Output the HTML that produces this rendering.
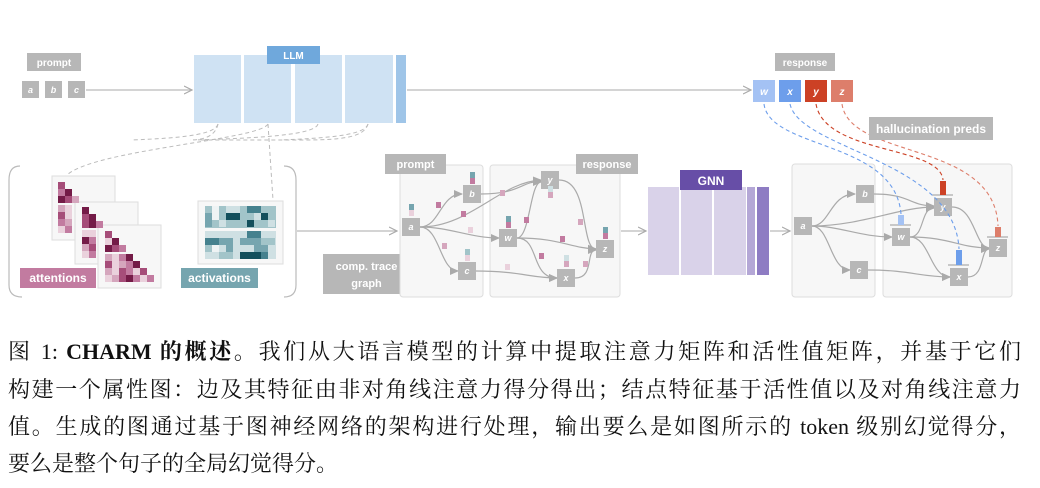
<!DOCTYPE html>
<html><head><meta charset="utf-8"><style>
body{margin:0;background:#fff;width:1040px;height:488px;overflow:hidden;position:relative}
svg{position:absolute;left:0;top:0}
.t{font-family:"Liberation Sans",sans-serif;font-weight:bold;fill:#fff}
.cap{position:absolute;left:8px;width:1013px;font-family:"Liberation Serif","Noto Serif CJK SC",serif;font-size:22px;color:#111;white-space:nowrap;text-align:justify;text-align-last:justify;line-height:26px}
</style></head><body>
<svg width="1040" height="330" viewBox="0 0 1040 330">
<defs>
<marker id="ah" markerWidth="10" markerHeight="10" refX="8" refY="5" orient="auto" markerUnits="userSpaceOnUse"><path d="M0,1 L8,5 L0,9" fill="none" stroke="#aaa" stroke-width="1.2"/></marker>
<marker id="ag" markerWidth="10" markerHeight="10" refX="8" refY="5" orient="auto" markerUnits="userSpaceOnUse"><path d="M0,1 L9,5 L0,9 z" fill="#aaa"/></marker>
</defs>
<rect x="27" y="53" width="54" height="18" fill="#b7b7b7"/><text x="54" y="66" class="t" font-size="10" text-anchor="middle">prompt</text>
<g font-size="9" class="t" text-anchor="middle" font-style="italic">
<rect x="22" y="81" width="17" height="17" fill="#b7b7b7"/><text x="30.5" y="93">a</text>
<rect x="45" y="81" width="17" height="17" fill="#b7b7b7"/><text x="53.5" y="93">b</text>
<rect x="68" y="81" width="17" height="17" fill="#b7b7b7"/><text x="76.5" y="93">c</text>
</g>
<line x1="86" y1="90" x2="192" y2="90" stroke="#bbb" stroke-width="1.3" marker-end="url(#ah)"/>
<rect x="194" y="55" width="47" height="68" fill="#cfe2f3"/><rect x="244" y="55" width="47" height="68" fill="#cfe2f3"/>
<rect x="295" y="55" width="47" height="68" fill="#cfe2f3"/><rect x="345" y="55" width="48" height="68" fill="#cfe2f3"/>
<rect x="396" y="55" width="10" height="68" fill="#9fc5e8"/>
<rect x="267" y="46" width="53" height="18" fill="#6fa8dc"/><text x="293.5" y="59" class="t" font-size="10" text-anchor="middle">LLM</text>
<line x1="407" y1="90" x2="751" y2="90" stroke="#bbb" stroke-width="1.3" marker-end="url(#ah)"/>
<g fill="none" stroke="#bbb" stroke-width="1" stroke-dasharray="4,3">
<path d="M218,124 C215,135 180,138 132,140"/>
<path d="M318,124 C315,135 260,138 195,140"/>
<path d="M368,124 C365,135 330,138 280,140"/>
<path d="M218,124 C215,138 200,140 190,140"/>
<path d="M268,124 C260,140 90,150 66,176"/>
<path d="M268,124 L273,200"/>
<path d="M368,124 C364,138 340,140 300,140 L200,140"/>
</g>
<path d="M20,166 Q9,166 9,180 L9,285 Q9,297 22,297 M284,297 Q296,297 296,285 L296,180 Q296,166 284,166" fill="none" stroke="#bbb" stroke-width="1.2"/>
<g stroke="#ddd" stroke-width="1">
<rect x="52" y="176" width="63" height="64" fill="#f7f7f7"/>
<rect x="75" y="202" width="63" height="62" fill="#f7f7f7"/>
<rect x="98" y="225" width="63" height="63" fill="#f7f7f7"/>
</g>
<g>
<rect x="58" y="182" width="7" height="7" fill="#a64d79"/><rect x="58" y="189" width="7" height="7" fill="#c27ba0"/><rect x="65" y="189" width="7" height="7" fill="#741b47"/>
<rect x="58" y="196" width="7" height="7" fill="#741b47"/><rect x="65" y="196" width="7" height="7" fill="#a64d79"/><rect x="72" y="196" width="7" height="7" fill="#d5a6bd"/>
<rect x="58" y="205" width="7" height="7" fill="#d5a6bd"/><rect x="65" y="205" width="7" height="7" fill="#ead1dc"/><rect x="58" y="212" width="7" height="7" fill="#a64d79"/><rect x="65" y="212" width="7" height="7" fill="#ead1dc"/><rect x="58" y="219" width="7" height="7" fill="#c27ba0"/><rect x="65" y="219" width="7" height="7" fill="#d5a6bd"/><rect x="58" y="226" width="7" height="7" fill="#ead1dc"/><rect x="65" y="226" width="7" height="7" fill="#c27ba0"/>
<rect x="82" y="207" width="7" height="7" fill="#741b47"/><rect x="82" y="214" width="7" height="7" fill="#a64d79"/><rect x="89" y="214" width="7" height="7" fill="#741b47"/><rect x="82" y="221" width="7" height="7" fill="#a64d79"/><rect x="89" y="221" width="7" height="7" fill="#741b47"/><rect x="96" y="221" width="7" height="7" fill="#c27ba0"/>
<rect x="82" y="230" width="7" height="7" fill="#ead1dc"/><rect x="89" y="230" width="7" height="7" fill="#ead1dc"/><rect x="82" y="237" width="7" height="7" fill="#741b47"/><rect x="89" y="237" width="7" height="7" fill="#c27ba0"/><rect x="82" y="244" width="7" height="7" fill="#d5a6bd"/><rect x="89" y="244" width="7" height="7" fill="#a64d79"/><rect x="82" y="251" width="7" height="7" fill="#ead1dc"/><rect x="89" y="251" width="7" height="7" fill="#c27ba0"/>
<rect x="105" y="231" width="7" height="7" fill="#a64d79"/><rect x="105" y="238" width="7" height="7" fill="#ead1dc"/><rect x="112" y="238" width="7" height="7" fill="#741b47"/><rect x="105" y="245" width="7" height="7" fill="#741b47"/><rect x="112" y="245" width="7" height="7" fill="#a64d79"/><rect x="119" y="245" width="7" height="7" fill="#c27ba0"/>
<rect x="105" y="254" width="7" height="7" fill="#d5a6bd"/><rect x="112" y="254" width="7" height="7" fill="#ead1dc"/><rect x="119" y="254" width="7" height="7" fill="#c27ba0"/><rect x="126" y="254" width="7" height="7" fill="#741b47"/>
<rect x="105" y="261" width="7" height="7" fill="#a64d79"/><rect x="112" y="261" width="7" height="7" fill="#ead1dc"/><rect x="119" y="261" width="7" height="7" fill="#d5a6bd"/><rect x="126" y="261" width="7" height="7" fill="#c27ba0"/><rect x="133" y="261" width="7" height="7" fill="#741b47"/>
<rect x="105" y="268" width="7" height="7" fill="#d5a6bd"/><rect x="112" y="268" width="7" height="7" fill="#ead1dc"/><rect x="119" y="268" width="7" height="7" fill="#a64d79"/><rect x="126" y="268" width="7" height="7" fill="#c27ba0"/><rect x="133" y="268" width="7" height="7" fill="#ead1dc"/><rect x="140" y="268" width="7" height="7" fill="#a64d79"/>
<rect x="105" y="275" width="7" height="7" fill="#ead1dc"/><rect x="112" y="275" width="7" height="7" fill="#d5a6bd"/><rect x="119" y="275" width="7" height="7" fill="#a64d79"/><rect x="126" y="275" width="7" height="7" fill="#741b47"/><rect x="133" y="275" width="7" height="7" fill="#c27ba0"/><rect x="140" y="275" width="7" height="7" fill="#ead1dc"/><rect x="147" y="275" width="7" height="7" fill="#c27ba0"/>
</g>
<rect x="20" y="268" width="76" height="20" fill="#c27ba0"/><text x="58" y="282" class="t" font-size="12" text-anchor="middle">attentions</text>
<rect x="198" y="201" width="85" height="63" fill="#f7f7f7" stroke="#ddd"/>
<g>
<rect x="205" y="206" width="71" height="22" fill="#a2c4c9"/>
<rect x="212" y="206" width="7" height="7" fill="#eef3f4"/><rect x="226" y="206" width="14" height="7" fill="#cfe0e3"/><rect x="247" y="206" width="14" height="7" fill="#45818e"/>
<rect x="226" y="213" width="14" height="7" fill="#134f5c"/><rect x="254" y="213" width="7" height="7" fill="#cfe0e3"/><rect x="261" y="213" width="7" height="7" fill="#134f5c"/><rect x="212" y="213" width="7" height="7" fill="#eef3f4"/>
<rect x="247" y="220" width="7" height="7" fill="#134f5c"/><rect x="219" y="220" width="7" height="7" fill="#cfe0e3"/><rect x="268" y="220" width="7" height="7" fill="#cfe0e3"/><rect x="205" y="213" width="7" height="14" fill="#76a5af"/>
<rect x="205" y="231" width="71" height="28" fill="#cfe0e3"/>
<rect x="205" y="238" width="14" height="7" fill="#45818e"/><rect x="219" y="238" width="14" height="7" fill="#76a5af"/><rect x="247" y="231" width="14" height="7" fill="#45818e"/><rect x="240" y="238" width="21" height="7" fill="#76a5af"/><rect x="261" y="238" width="14" height="7" fill="#a2c4c9"/>
<rect x="212" y="245" width="7" height="7" fill="#eef3f4"/><rect x="226" y="245" width="7" height="7" fill="#76a5af"/><rect x="254" y="245" width="14" height="7" fill="#76a5af"/><rect x="205" y="245" width="7" height="7" fill="#a2c4c9"/>
<rect x="240" y="252" width="21" height="7" fill="#134f5c"/><rect x="261" y="252" width="7" height="7" fill="#45818e"/><rect x="219" y="252" width="14" height="7" fill="#a2c4c9"/>
</g>
<rect x="181" y="268" width="77" height="20" fill="#76a5af"/><text x="219.5" y="282" class="t" font-size="12" text-anchor="middle">activations</text>
<line x1="297" y1="231" x2="397" y2="231" stroke="#bbb" stroke-width="1.3" marker-end="url(#ah)"/>
<rect x="323" y="254" width="87" height="40" fill="#b7b7b7"/><text x="366.5" y="270" class="t" font-size="11" text-anchor="middle">comp. trace</text><text x="366.5" y="287" class="t" font-size="11" text-anchor="middle">graph</text>
<rect x="400" y="165" width="83" height="132" rx="3" fill="#f7f7f7" stroke="#ddd"/>
<rect x="490" y="165" width="130" height="132" rx="3" fill="#f7f7f7" stroke="#ddd"/>
<rect x="385" y="154" width="61" height="20" fill="#b7b7b7"/><text x="415.5" y="168" class="t" font-size="11" text-anchor="middle">prompt</text>
<rect x="576" y="154" width="62" height="20" fill="#b7b7b7"/><text x="607" y="168" class="t" font-size="11" text-anchor="middle">response</text>
<g fill="none" stroke="#aaa" stroke-width="1.2" marker-end="url(#ag)">
<path d="M420,227 C440,227 440,194 462,194"/>
<path d="M420,227 C470,227 500,182 541,180"/>
<path d="M420,227 C450,227 470,238 499,238"/>
<path d="M420,227 C440,227 440,271 458,271"/>
<path d="M481,194 C520,194 520,182 541,181"/>
<path d="M517,238 C530,238 530,182 541,182"/>
<path d="M517,238 C560,238 570,248 596,249"/>
<path d="M517,238 C540,238 530,278 557,278"/>
<path d="M476,271 C520,271 530,278 557,278"/>
<path d="M559,180 C590,180 580,249 596,249"/>
<path d="M575,278 C595,278 585,250 596,250"/>
</g>
<g font-size="9" class="t" text-anchor="middle" font-style="italic">
<rect x="402" y="218" width="18" height="18" fill="#b7b7b7"/><text x="411" y="230">a</text>
<rect x="463" y="185" width="18" height="18" fill="#b7b7b7"/><text x="472" y="197">b</text>
<rect x="458" y="262" width="18" height="18" fill="#b7b7b7"/><text x="467" y="274">c</text>
<rect x="499" y="229" width="18" height="18" fill="#b7b7b7"/><text x="508" y="241">w</text>
<rect x="541" y="171" width="18" height="18" fill="#b7b7b7"/><text x="550" y="183">y</text>
<rect x="557" y="269" width="18" height="18" fill="#b7b7b7"/><text x="566" y="281">x</text>
<rect x="596" y="240" width="18" height="18" fill="#b7b7b7"/><text x="605" y="252">z</text>
</g>
<g>
<rect x="409" y="204" width="5" height="6" fill="#76a5af"/><rect x="409" y="210" width="5" height="6" fill="#ead1dc"/>
<rect x="470" y="172" width="5" height="6" fill="#76a5af"/><rect x="470" y="178" width="5" height="6" fill="#c27ba0"/>
<rect x="465" y="249" width="5" height="6" fill="#a2c4c9"/><rect x="465" y="255" width="5" height="6" fill="#ead1dc"/>
<rect x="506" y="216" width="5" height="6" fill="#76a5af"/><rect x="506" y="222" width="5" height="6" fill="#c27ba0"/>
<rect x="548" y="186" width="5" height="6" fill="#cfe0e3"/><rect x="548" y="192" width="5" height="6" fill="#d5a6bd"/>
<rect x="564" y="255" width="5" height="6" fill="#cfe0e3"/><rect x="564" y="261" width="5" height="6" fill="#d5a6bd"/>
<rect x="603" y="227" width="5" height="6" fill="#76a5af"/><rect x="603" y="233" width="5" height="6" fill="#c27ba0"/>
<rect x="436" y="202" width="5" height="6" fill="#c27ba0"/><rect x="461" y="211" width="5" height="6" fill="#c27ba0"/><rect x="468" y="227" width="5" height="6" fill="#ead1dc"/>
<rect x="442" y="243" width="5" height="6" fill="#d5a6bd"/><rect x="500" y="190" width="5" height="6" fill="#d5a6bd"/><rect x="524" y="217" width="5" height="6" fill="#c27ba0"/>
<rect x="578" y="219" width="5" height="6" fill="#d5a6bd"/><rect x="560" y="236" width="5" height="6" fill="#c27ba0"/><rect x="539" y="253" width="5" height="6" fill="#c27ba0"/>
<rect x="505" y="264" width="5" height="6" fill="#ead1dc"/><rect x="583" y="261" width="5" height="6" fill="#d5a6bd"/>
</g>
<line x1="621" y1="231" x2="646" y2="231" stroke="#bbb" stroke-width="1.3" marker-end="url(#ah)"/>
<rect x="648" y="187" width="31" height="88" fill="#d9d2e9"/><rect x="681" y="187" width="31" height="88" fill="#d9d2e9"/><rect x="714" y="187" width="32" height="88" fill="#d9d2e9"/>
<rect x="747" y="187" width="8" height="88" fill="#b4a7d6"/><rect x="757" y="187" width="12" height="88" fill="#8e7cc3"/>
<rect x="680" y="170" width="62" height="20" fill="#674ea7"/><text x="711" y="185" class="t" font-size="12" text-anchor="middle">GNN</text>
<line x1="770" y1="231" x2="790" y2="231" stroke="#bbb" stroke-width="1.3" marker-end="url(#ah)"/>
<rect x="792" y="164" width="83" height="133" rx="3" fill="#f7f7f7" stroke="#ddd"/>
<rect x="883" y="164" width="129" height="133" rx="3" fill="#f7f7f7" stroke="#ddd"/>
<g fill="none" stroke="#aaa" stroke-width="1.2" marker-end="url(#ag)">
<path d="M812,226 C830,226 830,194 855,194"/>
<path d="M812,226 C860,226 900,207 934,207"/>
<path d="M812,226 C840,226 860,237 892,237"/>
<path d="M812,226 C830,226 830,270 850,270"/>
<path d="M874,194 C910,194 910,206 934,206"/>
<path d="M910,237 C925,237 920,208 934,208"/>
<path d="M910,237 C950,237 960,248 989,248"/>
<path d="M910,237 C930,237 930,277 950,277"/>
<path d="M868,270 C910,270 920,277 950,277"/>
<path d="M952,207 C975,207 975,248 989,248"/>
<path d="M968,277 C985,277 980,249 989,249"/>
</g>
<g font-size="9" class="t" text-anchor="middle" font-style="italic">
<rect x="794" y="217" width="18" height="18" fill="#b7b7b7"/><text x="803" y="229">a</text>
<rect x="856" y="185" width="18" height="18" fill="#b7b7b7"/><text x="865" y="197">b</text>
<rect x="850" y="261" width="18" height="18" fill="#b7b7b7"/><text x="859" y="273">c</text>
<rect x="892" y="228" width="18" height="18" fill="#b7b7b7"/><text x="901" y="240">w</text>
<rect x="934" y="198" width="18" height="18" fill="#b7b7b7"/><text x="943" y="210">y</text>
<rect x="950" y="268" width="18" height="18" fill="#b7b7b7"/><text x="959" y="280">x</text>
<rect x="989" y="239" width="18" height="18" fill="#b7b7b7"/><text x="998" y="251">z</text>
</g>
<g stroke="#999" stroke-width="1">
<line x1="890" y1="225" x2="911" y2="225"/><line x1="932" y1="195" x2="953" y2="195"/><line x1="948" y1="265" x2="969" y2="265"/><line x1="987" y1="237" x2="1008" y2="237"/>
</g>
<rect x="898" y="215" width="6" height="10" fill="#a4c2f4"/><rect x="940" y="181" width="6" height="14" fill="#cc4125"/>
<rect x="956" y="250" width="6" height="15" fill="#6d9eeb"/><rect x="995" y="227" width="6" height="10" fill="#dd7e6b"/>
<rect x="775" y="53" width="60" height="18" fill="#b7b7b7"/><text x="805" y="66" class="t" font-size="10" text-anchor="middle">response</text>
<g font-size="10" class="t" text-anchor="middle" font-style="italic">
<rect x="753" y="80" width="22" height="22" fill="#a4c2f4"/><text x="764" y="95">w</text>
<rect x="779" y="80" width="22" height="22" fill="#6d9eeb"/><text x="790" y="95">x</text>
<rect x="805" y="80" width="22" height="22" fill="#cc4125"/><text x="816" y="95">y</text>
<rect x="831" y="80" width="22" height="22" fill="#dd7e6b"/><text x="842" y="95">z</text>
</g>
<g fill="none" stroke-width="1.1" stroke-dasharray="4,3">
<path d="M764,104 C770,150 895,140 901,214" stroke="#6d9eeb"/>
<path d="M790,104 C800,150 955,160 959,249" stroke="#6d9eeb"/>
<path d="M816,104 C825,155 940,145 943,180" stroke="#cc4125"/>
<path d="M842,104 C850,160 995,140 998,226" stroke="#dd7e6b"/>
</g>
<rect x="869" y="117" width="124" height="23" fill="#b7b7b7"/><text x="931" y="133" class="t" font-size="12" text-anchor="middle">hallucination preds</text>
</svg>
<div class="cap" style="top:339px">图 1: <b>CHARM 的概述</b>。我们从大语言模型的计算中提取注意力矩阵和活性值矩阵，并基于它们</div>
<div class="cap" style="top:377px">构建一个属性图：边及其特征由非对角线注意力得分得出；结点特征基于活性值以及对角线注意力</div>
<div class="cap" style="top:414px">值。生成的图通过基于图神经网络的架构进行处理，输出要么是如图所示的 token 级别幻觉得分，</div>
<div class="cap" style="top:451px;text-align-last:left">要么是整个句子的全局幻觉得分。</div>
</body></html>
